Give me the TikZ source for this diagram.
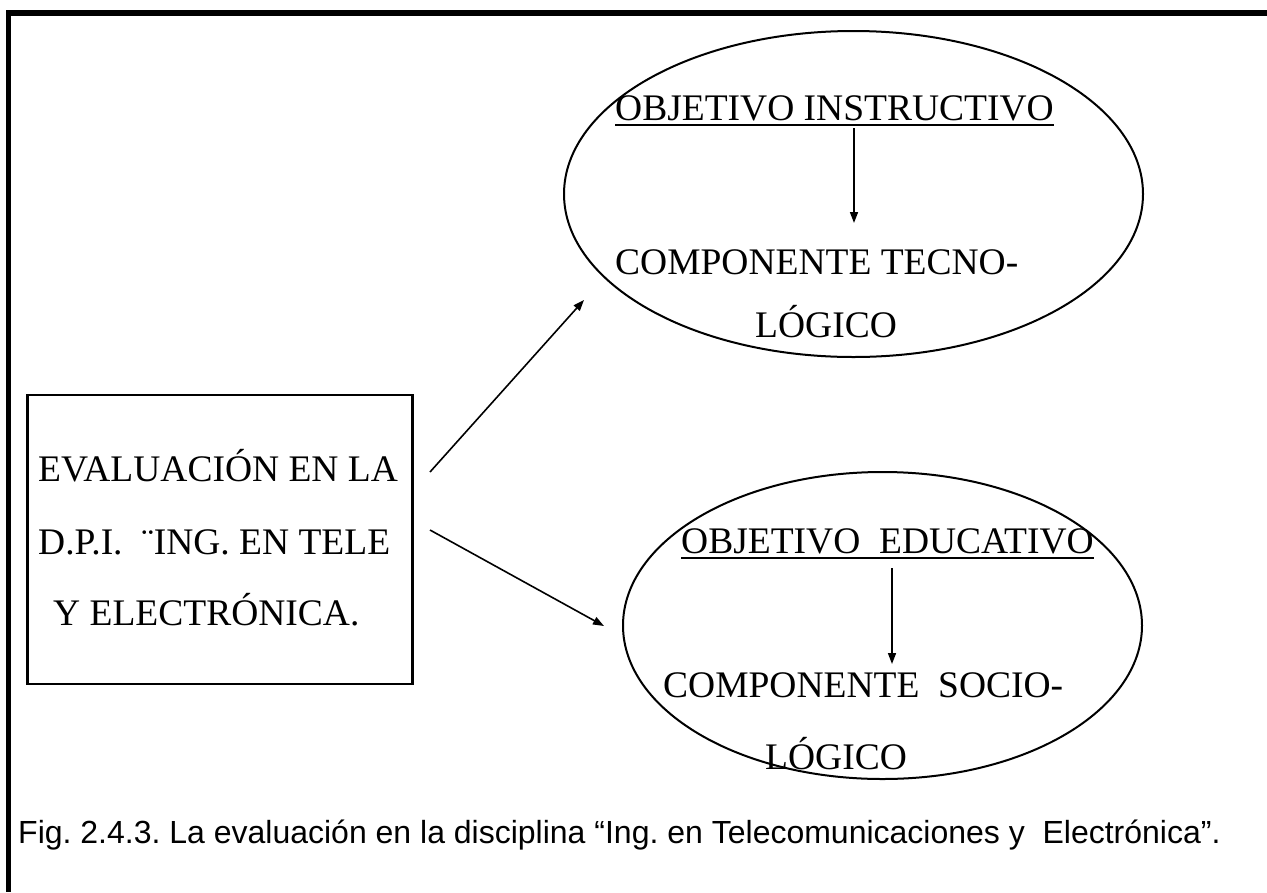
\documentclass[tikz,border=0pt]{standalone}
\usepackage{fontspec}
\setmainfont{Liberation Serif}
\newfontfamily\capfont{Liberation Sans}
\usetikzlibrary{arrows.meta}
\frenchspacing
\tikzset{
  txt/.style={anchor=base west, inner sep=0pt, font=\frenchspacing\fontsize{37.5}{45}\selectfont},
  captxt/.style={anchor=base west, inner sep=0pt, font=\frenchspacing\capfont\fontsize{32}{38}\selectfont},
  frameline/.style={line width=5.5pt},
  conn/.style={line width=1.6pt, -{Triangle[length=11pt,width=8pt]}},
  oval/.style={draw, line width=2pt},
  uline/.style={line width=2pt}
}
\begin{document}
\begin{tikzpicture}[x=1pt,y=-1pt]
\useasboundingbox (0,0) rectangle (1267,892);
% frame (top and left only)
\coordinate (ftl) at (8.5,12.8);
\coordinate (ftr) at (1267,12.8);
\coordinate (fbl) at (8.5,892);
\draw[frameline] (ftr) -- (ftl) -- (fbl);
% left box
\node[draw, line width=2.5pt, minimum width=385pt, minimum height=289pt, inner sep=0pt] (box) at (220,539.5) {};
\node[txt] (b1) at (38,481) {EVALUACIÓN EN LA};
\node[txt] (b2) at (38,554) {D.P.I.\ \ ¨ING. EN TELE};
\node[txt] (b3) at (53,625) {Y ELECTRÓNICA.};
% ellipses
\draw[oval] (853.5,194) ellipse [x radius=289.5, y radius=163];
\draw[oval] (882.5,625.5) ellipse [x radius=259.5, y radius=153.5];
% top ellipse text
\node[txt] (o1) at (615,120) {OBJETIVO INSTRUCTIVO};
\draw[uline] ([yshift=-5pt]o1.base west) -- ([yshift=-5pt]o1.base east);
\node[txt] (c1) at (615,274) {COMPONENTE TECNO-};
\node[txt] (l1) at (755,337) {LÓGICO};
\coordinate (a1s) at (854,128);
\coordinate (a1e) at (854,223);
\draw[conn] (a1s) -- (a1e);
% bottom ellipse text
\node[txt] (o2) at (681,553) {OBJETIVO\ \ EDUCATIVO};
\draw[uline] ([yshift=-4.5pt]o2.base west) -- ([yshift=-4.5pt]o2.base east);
\node[txt] (c2) at (663,697) {COMPONENTE\ \ SOCIO-};
\node[txt] (l2) at (765,769) {LÓGICO};
\coordinate (a2s) at (892,568);
\coordinate (a2e) at (892,664);
\draw[conn] (a2s) -- (a2e);
% connectors from box
\coordinate (p1s) at (430,472);
\coordinate (p1e) at (584,300);
\coordinate (p2s) at (430,530);
\coordinate (p2e) at (604,626);
\draw[conn] (p1s) -- (p1e);
\draw[conn] (p2s) -- (p2e);
% caption
\node[captxt] (cap) at (18,843) {Fig. 2.4.3. La evaluación en la disciplina “Ing. en Telecomunicaciones y\ \ Electrónica”.};
\end{tikzpicture}
\end{document}
